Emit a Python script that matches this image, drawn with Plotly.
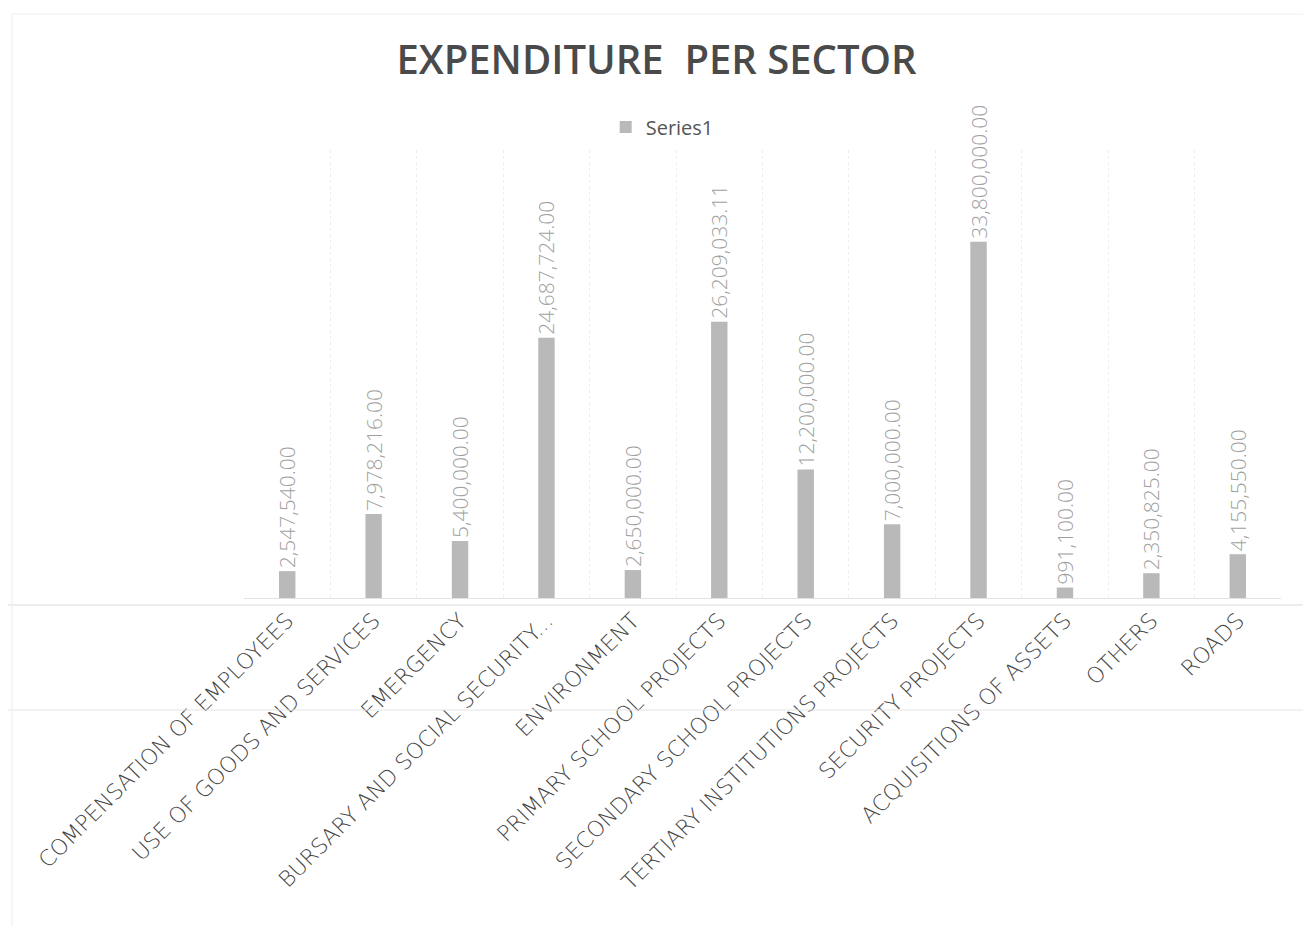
import plotly.graph_objects as go

categories = [
    "COMPENSATION OF EMPLOYEES",
    "USE OF GOODS AND SERVICES",
    "EMERGENCY",
    "BURSARY AND SOCIAL SECURITY...",
    "ENVIRONMENT",
    "PRIMARY SCHOOL PROJECTS",
    "SECONDARY SCHOOL PROJECTS",
    "TERTIARY INSTITUTIONS PROJECTS",
    "SECURITY PROJECTS",
    "ACQUISITIONS OF ASSETS",
    "OTHERS",
    "ROADS",
]
values = [
    2547540.00,
    7978216.00,
    5400000.00,
    24687724.00,
    2650000.00,
    26209033.11,
    12200000.00,
    7000000.00,
    33800000.00,
    991100.00,
    2350825.00,
    4155550.00,
]
series_name = "Series1"
title_text = "EXPENDITURE  PER SECTOR"

W, H = 1311, 926
OFF = 8  # page body margin
L, R, T, B = 244 - OFF, 30 + OFF, 150 - OFF, 328 + OFF
PW, PH = W - L - R, H - T - B

fig = go.Figure()
fig.add_trace(go.Bar(
    x=categories,
    y=values,
    name=series_name,
    marker=dict(color="#b9b9b9", line=dict(width=0)),
    texttemplate="%{y:,.2f}",
    textposition="outside",
    textangle=-90,
    constraintext="none",
    cliponaxis=False,
    textfont=dict(family="Open Sans", size=21, color="#a0a0a0", weight=300),
    showlegend=True,
))

fig.update_layout(
    width=W, height=H,
    margin=dict(l=L, r=R, t=T, b=B, autoexpand=False),
    paper_bgcolor="white",
    plot_bgcolor="white",
    bargap=0.81,
    title=dict(
        text=title_text,
        x=0.5 - 7 / W, xref="container", xanchor="center",
        y=1 - (60 - OFF) / H, yref="container", yanchor="middle",
        font=dict(family="Open Sans", size=40, color="#4a4a4a", weight=600),
    ),
    legend=dict(
        orientation="h",
        x=0.499, xref="container", xanchor="center",
        y=1 - (127 - OFF) / H, yref="container", yanchor="middle",
        font=dict(family="Open Sans", size=20, color="#555555"),
        itemwidth=30,
        bgcolor="rgba(0,0,0,0)",
    ),
    xaxis=dict(
        type="category",
        tickangle=-45,
        tickson="boundaries",
        ticks="",
        showgrid=True,
        gridcolor="#ededed",
        griddash="dot",
        gridwidth=1,
        showline=True,
        linecolor="#e2e2e2",
        tickfont=dict(family="DejaVu Sans", size=22, color="#444444", weight=300),
        automargin=False,
    ),
    yaxis=dict(
        range=[0, 42.5e6],
        showgrid=False,
        showticklabels=False,
        zeroline=False,
        showline=False,
        ticks="",
    ),
    shapes=[
        dict(type="line", xref="paper", yref="paper",
             x0=-L / PW, x1=1 + R / PW,
             y0=-7 / PH, y1=-7 / PH,
             line=dict(color="#dadada", width=1)),
        dict(type="line", xref="paper", yref="paper",
             x0=-L / PW, x1=1 + R / PW,
             y0=-112 / PH, y1=-112 / PH,
             line=dict(color="#e4e4e4", width=1)),
        dict(type="rect", xref="paper", yref="paper",
             x0=-(L - 4) / PW, x1=1 + (R - 2) / PW,
             y0=-(B - 2) / PH, y1=1 + (T - 6) / PH,
             line=dict(color="#eeeeee", width=1)),
    ],
)

fig.write_html("out.html")
